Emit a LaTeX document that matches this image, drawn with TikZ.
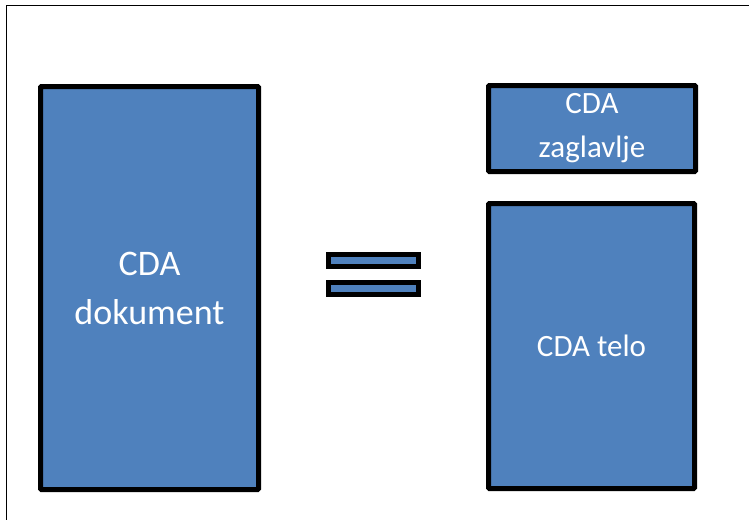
\documentclass[tikz,border=0pt]{standalone}
\usepackage{fontspec}
\setmainfont{Carlito}
\definecolor{cdablue}{HTML}{4F81BD}
\tikzset{
	cdabox/.style={draw=black, fill=cdablue, line width=5pt, rounded corners=1pt, inner sep=0pt,
		text=white, align=center, font=\fontsize{31}{44}\selectfont},
	cdabar/.style={draw=black, fill=cdablue, line width=5pt, inner sep=0pt, minimum width=90pt, minimum height=12pt}
}
\begin{document}
\begin{tikzpicture}[x=1pt, y=-1pt]
		\useasboundingbox (0,0) rectangle (749,519);
		\draw[line width=1.5pt] (6.5,5.5) rectangle (780,540);
		\node[cdabox, minimum width=218pt, minimum height=403pt, font=\fontsize{36}{49}\selectfont] (dokument) at (149.5,288) {CDA\\dokument};
		\node[cdabox, minimum width=207pt, minimum height=86pt] (zaglavlje) at (592,128.5) {CDA\\zaglavlje};
		\node[cdabox, minimum width=206pt, minimum height=285pt] (telo) at (591.5,346) {CDA telo};
		\foreach \k/\y in {1/260.5,2/288.5}{
			\node[cdabar] (bar\k) at (373.5,\y) {};
		}
	\end{tikzpicture}
\end{document}
